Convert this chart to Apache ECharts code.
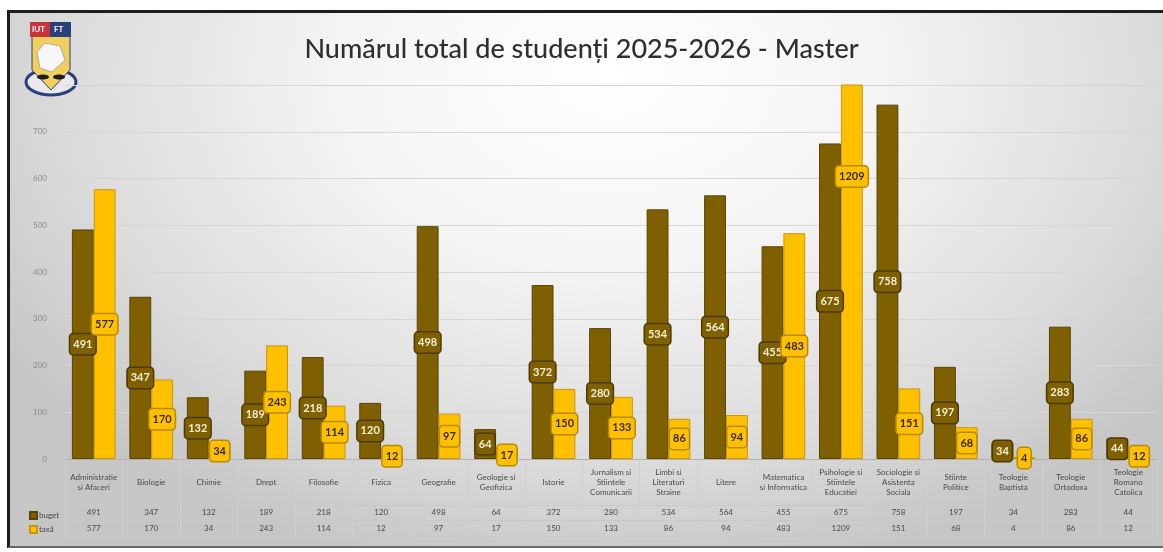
<!DOCTYPE html>
<html>
<head>
<meta charset="utf-8">
<script src="https://cdn.jsdelivr.net/npm/echarts@6/dist/echarts.min.js"></script>
<style>
  html, body { margin:0; padding:0; background:#ffffff; }
  #frame { position:absolute; left:7px; top:10px; width:1156px; height:538px; box-sizing:border-box;
    border-top:3px solid #1e1e1e; border-left:3px solid #1e1e1e; border-bottom:2px solid #6a6a6a;
    background: radial-gradient(ellipse 62% 95% at 52% 12%, #ffffff 0%, #f4f4f4 38%, #dcdcdc 75%, #c6c6c6 100%); }
  #chart { position:absolute; left:0; top:0; width:1163px; height:552px; }
</style>
</head>
<body>
<div id="frame"></div>
<div id="chart"></div>
<script>
const categories = [
  "Administratie\nsi Afaceri", "Biologie", "Chimie", "Drept", "Filosofie", "Fizica",
  "Geografie", "Geologie si\nGeofizica", "Istorie", "Jurnalism si\nStiintele\nComunicarii",
  "Limbi si\nLiteraturi\nStraine", "Litere", "Matematica\nsi Informatica",
  "Psihologie si\nStiintele\nEducatiei", "Sociologie si\nAsistenta\nSociala",
  "Stiinte\nPolitice", "Teologie\nBaptista", "Teologie\nOrtodoxa", "Teologie\nRomano\nCatolica"
];
const buget = [491, 347, 132, 189, 218, 120, 498, 64, 372, 280, 534, 564, 455, 675, 758, 197, 34, 283, 44];
const taxa  = [577, 170, 34, 243, 114, 12, 97, 17, 150, 133, 86, 94, 483, 1209, 151, 68, 4, 86, 12];
const yTicks = [0, 100, 200, 300, 400, 500, 600, 700, 800];
const seriesNames = ["buget", "taxă"];
const titleText = "Numărul total de studenți 2025-2026 - Master";

const BROWN = "#7F6000", YELLOW = "#FFC000";
const FONT = "Lato";

function labelPoints(values) {
  return values.map((v, i) => ({ coord: [i, v / 2], value: v }));
}
function markLabels(values, bg, border, textColor) {
  return {
    symbol: "rect", symbolSize: 1, itemStyle: { color: "rgba(0,0,0,0)" },
    silent: true, animation: false,
    label: {
      show: true, position: "inside", formatter: p => String(p.value),
      backgroundColor: bg, borderColor: border, borderWidth: 1.5, borderRadius: 3,
      padding: [5, 3, 4, 3], fontSize: 11, fontWeight: "bold", fontFamily: FONT, color: textColor
    },
    data: labelPoints(values)
  };
}

const chart = echarts.init(document.getElementById("chart"), null, { renderer: "canvas" });
const tableAxisBase = {
  type: "category", position: "bottom", gridIndex: 0,
  axisTick: { show: false }, splitLine: { show: false },
  axisLine: { show: true, lineStyle: { color: "#c8c8c8", width: 1 } }
};
chart.setOption({
  backgroundColor: "transparent",
  animation: false,
  textStyle: { fontFamily: FONT },
  title: {
    text: titleText, left: "center", top: 31,
    textStyle: { fontSize: 27, fontWeight: 500, color: "#2f2f2f", fontFamily: FONT }
  },
  legend: {
    data: seriesNames, orient: "vertical", left: 24, top: 506, itemGap: 5,
    itemWidth: 7, itemHeight: 7, icon: "rect",
    textStyle: { fontSize: 8, color: "#444", padding: [0, 0, 0, -3] }
  },
  grid: { left: 65, right: 6, top: 85, bottom: 93, containLabel: false },
  xAxis: [
    {
      type: "category", data: categories, position: "bottom",
      axisLine: { show: true, lineStyle: { color: "#b0b0b0" } },
      axisTick: { show: true, length: 77, interval: 0, lineStyle: { color: "#cfcfcf" } },
      axisLabel: { interval: 0, fontSize: 8, lineHeight: 10, color: "#4a4a4a", margin: 23, verticalAlign: "middle" },
      splitLine: { show: false }
    },
    Object.assign({}, tableAxisBase, {
      data: buget.map(String), offset: 46,
      axisLabel: { interval: 0, fontSize: 8, color: "#4a4a4a", margin: 7, verticalAlign: "middle" }
    }),
    Object.assign({}, tableAxisBase, {
      data: taxa.map(String), offset: 61,
      axisLabel: { interval: 0, fontSize: 8, color: "#4a4a4a", margin: 8, verticalAlign: "middle" }
    }),
    Object.assign({}, tableAxisBase, {
      data: categories, offset: 77, axisLabel: { show: false }
    })
  ],
  yAxis: {
    type: "value", min: yTicks[0], max: yTicks[yTicks.length - 1], interval: 100,
    axisLine: { show: false }, axisTick: { show: false },
    axisLabel: { fontSize: 8, color: "#8a8a8a", margin: 18, showMaxLabel: false },
    splitLine: { lineStyle: { color: "#d6d6d6", width: 1 } }
  },
  series: [
    {
      name: seriesNames[0], type: "bar", data: buget, barWidth: "38%", barGap: "0%",
      itemStyle: { color: BROWN, borderColor: "#5a4300", borderWidth: 1 },
      markPoint: markLabels(buget, BROWN, "#4d3900", "#f6efd6")
    },
    {
      name: seriesNames[1], type: "bar", data: taxa, barWidth: "38%", barGap: "0%",
      itemStyle: { color: YELLOW, borderColor: "#c99700", borderWidth: 1 },
      markPoint: markLabels(taxa, YELLOW, "#b88a00", "#3b2c00")
    }
  ],
  graphic: [
    { type: "ellipse", shape: { cx: 51, cy: 82, rx: 25, ry: 13 },
      style: { fill: "#e8e8ee", stroke: "#2b3f7c", lineWidth: 3 } },
    { type: "polygon", shape: { points: [[32, 36], [70, 36], [70, 70], [51, 90], [32, 70]] },
      style: { fill: "#f1cf5f", stroke: "#2b3f7c", lineWidth: 1 } },
    { type: "rect", shape: { x: 30, y: 22, width: 20, height: 15 }, style: { fill: "#c8343c" } },
    { type: "rect", shape: { x: 50, y: 22, width: 21, height: 15 }, style: { fill: "#2b3f7c" } },
    { type: "text", x: 32, y: 25, style: { text: "IUT", fill: "#ffffff", font: "bold 8px Lato" } },
    { type: "text", x: 54, y: 25, style: { text: "FT", fill: "#ffffff", font: "bold 8px Lato" } },
    { type: "polygon", shape: { points: [[37, 52], [45, 43], [60, 46], [65, 60], [52, 72], [40, 68]] },
      style: { fill: "#f7f7f7", stroke: "#8a8a8a", lineWidth: 0.6 } },
    { type: "ellipse", shape: { cx: 43, cy: 77, rx: 6, ry: 2.5 }, style: { fill: "#1d1d1d" } },
    { type: "ellipse", shape: { cx: 59, cy: 77, rx: 6, ry: 2.5 }, style: { fill: "#1d1d1d" } }
  ]
});
</script>
</body>
</html>
